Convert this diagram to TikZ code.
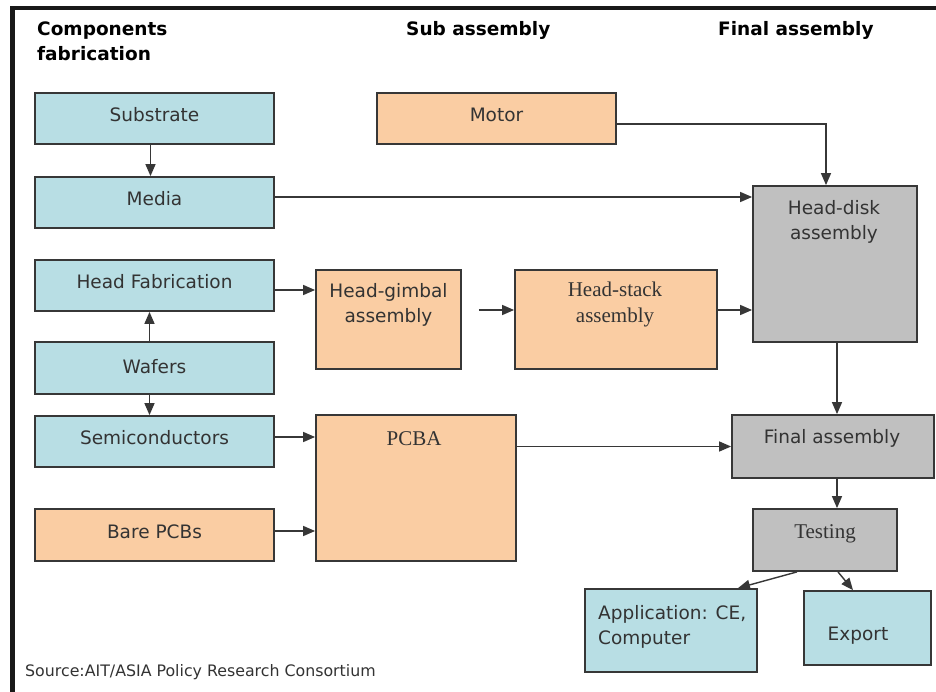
\documentclass[tikz,border=0pt]{standalone}
\usepackage{fontspec}
\setmainfont{DejaVu Sans}
\newfontfamily\boxserif{Liberation Serif}
\usetikzlibrary{arrows.meta}
\definecolor{boxblue}{RGB}{184,222,228}
\definecolor{boxpeach}{RGB}{250,205,163}
\definecolor{boxgrey}{RGB}{192,192,192}
\definecolor{edge}{RGB}{55,55,55}
\begin{document}
\begin{tikzpicture}[x=1pt, y=-1pt,
		box/.style={draw=edge, line width=1.8pt, inner sep=0pt},
		bluebox/.style={box, fill=boxblue},
		peachbox/.style={box, fill=boxpeach},
		greybox/.style={box, fill=boxgrey},
		txt/.style={inner sep=0pt, text=black!80, font=\fontsize{18.5}{25}\selectfont, align=center},
		stxt/.style={inner sep=0pt, text=black!80, font=\boxserif\fontsize{21}{25}\selectfont, align=center},
		head/.style={inner sep=0pt, font=\bfseries\fontsize{18.5}{25}\selectfont, align=left, anchor=base west},
		arr/.style={draw=edge, line width=1.4pt, -{Triangle[length=12pt,width=10pt]}}]
	\useasboundingbox (0,0) rectangle (936,692);
	\fill[white] (0,0) rectangle (936,692);
	% frame
	\fill[black!90] (10,6) rectangle (936,10);
	\fill[black!90] (10,6) rectangle (14.5,692);
	% column heads (multi-line nodes sit on their last baseline)
	\node[head] (hComp) at (37,60.5) {Components\\fabrication};
	\node[head] (hSub) at (406,36) {Sub assembly};
	\node[head] (hFin) at (718,36) {Final assembly};
	% boxes
	\node[bluebox, minimum width=239pt, minimum height=51pt] (sub) at (154.5,118.5) {};
	\node[bluebox, minimum width=239pt, minimum height=51pt] (med) at (154.5,202.5) {};
	\node[bluebox, minimum width=239pt, minimum height=51pt] (hfab) at (154.5,285.5) {};
	\node[bluebox, minimum width=239pt, minimum height=52pt] (waf) at (154.5,368) {};
	\node[bluebox, minimum width=239pt, minimum height=51pt] (semi) at (154.5,441.5) {};
	\node[peachbox, minimum width=239pt, minimum height=52pt] (bare) at (154.5,535) {};
	\node[peachbox, minimum width=239pt, minimum height=51pt] (motor) at (496.5,118.5) {};
	\node[peachbox, minimum width=145pt, minimum height=99pt] (hga) at (388.5,319.5) {};
	\node[peachbox, minimum width=202pt, minimum height=99pt] (hsa) at (616,319.5) {};
	\node[greybox, minimum width=164pt, minimum height=156pt] (hda) at (835,264) {};
	\node[peachbox, minimum width=200pt, minimum height=146pt] (pcba) at (416,488) {};
	\node[greybox, minimum width=202pt, minimum height=63pt] (fin) at (833,446.5) {};
	\node[greybox, minimum width=144pt, minimum height=62pt] (test) at (825,540) {};
	\node[bluebox, minimum width=172pt, minimum height=83pt] (app) at (671,630.5) {};
	\node[bluebox, minimum width=127pt, minimum height=74pt] (exp) at (867.5,628) {};
	% texts
	\node[txt, anchor=base] (subT) at (154.5,122) {Substrate};
	\node[txt, anchor=base] (medT) at (154.5,206) {Media};
	\node[txt, anchor=base] (hfabT) at (154.5,289) {Head Fabrication};
	\node[txt, anchor=base] (wafT) at (154.5,373) {Wafers};
	\node[txt, anchor=base] (semiT) at (154.5,444) {Semiconductors};
	\node[txt, anchor=base] (bareT) at (154.5,538) {Bare PCBs};
	\node[txt, anchor=base] (motorT) at (496.5,122) {Motor};
	\node[txt, anchor=base] (hgaT) at (388.5,323) {Head-gimbal\\assembly};
	\node[stxt, anchor=base] (hsaT) at (615,322) {Head-stack\\assembly};
	\node[txt, anchor=base] (hdaT) at (834,240) {Head-disk\\assembly};
	\node[stxt, anchor=base] (pcbaT) at (414,445) {PCBA};
	\node[txt, anchor=base] (finT) at (832,443) {Final assembly};
	\node[stxt, anchor=base] (testT) at (825,538) {Testing};
	\node[txt, anchor=base west, align=left] (appT) at (598,644) {Application: CE,\\Computer};
	\node[txt, anchor=base] (expT) at (858,640) {Export};
	\node[inner sep=0pt, anchor=base west, text=black!80, font=\fontsize{15.8}{18}\selectfont] (src) at (25,676) {Source:AIT/ASIA Policy Research Consortium};
	% arrows
	\draw[arr] ([xshift=-4pt]sub.south) -- ([xshift=-4pt]med.north);
	\draw[arr] ([yshift=5.5pt]med.east) -- ([yshift=5.5pt]med.east -| hda.west);
	\draw[arr] ([yshift=-5.5pt]motor.east) -| ([xshift=-9pt]hda.north);
	\draw[arr] ([xshift=-5pt]waf.north) -- ([xshift=-5pt]hfab.south);
	\draw[arr] ([xshift=-5pt]waf.south) -- ([xshift=-5pt]semi.north);
	\draw[arr] ([yshift=-4.5pt]hfab.east) -- ([yshift=-4.5pt]hfab.east -| hga.west);
	\draw[arr, shorten <=17pt] ([yshift=9.5pt]hga.east) -- ([yshift=9.5pt]hga.east -| hsa.west);
	\draw[arr] ([yshift=9.5pt]hsa.east) -- ([yshift=9.5pt]hsa.east -| hda.west);
	\draw[arr] ([yshift=4.5pt]semi.east) -- ([yshift=4.5pt]semi.east -| pcba.west);
	\draw[arr] ([yshift=4pt]bare.east) -- ([yshift=4pt]bare.east -| pcba.west);
	\draw[arr] (pcba.east |- fin.west) -- (fin.west);
	\draw[arr] ([xshift=2pt]hda.south) -- ([xshift=2pt]hda.south |- fin.north);
	\draw[arr] ([xshift=4pt]fin.south) -- ([xshift=4pt]fin.south |- test.north);
	\draw[arr] ([xshift=-28pt]test.south) -- ([xshift=67pt]app.north);
	\draw[arr] ([xshift=13pt]test.south) -- ([xshift=-14.5pt]exp.north);
\end{tikzpicture}
\end{document}
